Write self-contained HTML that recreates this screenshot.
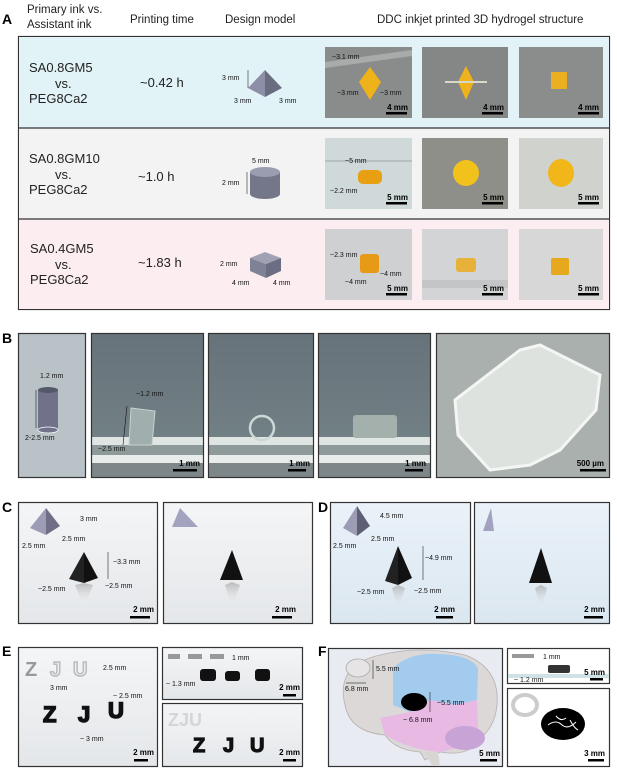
<!DOCTYPE html>
<html><head><meta charset="utf-8"><style>
html,body{margin:0;padding:0;background:#fff;}
svg{display:block;}
text{font-family:"Liberation Sans",Arial,sans-serif;}
.sb{font-size:8px;font-weight:bold;fill:#000;}
.lbl{font-size:7px;fill:#111;}
.big{font-size:14px;font-weight:bold;}
.hd{font-size:11.5px;fill:#222;}
.rt{font-size:13px;fill:#222;}
</style></head><body>
<svg width="617" height="768" viewBox="0 0 617 768" xmlns="http://www.w3.org/2000/svg">
<defs>
<linearGradient id="gW" x1="0" y1="0" x2="0" y2="1"><stop offset="0" stop-color="#f4f5f6"/><stop offset="1" stop-color="#e4e7ea"/></linearGradient>
<linearGradient id="gD" x1="0" y1="0" x2="0" y2="1"><stop offset="0" stop-color="#eaf2f9"/><stop offset="1" stop-color="#dbe7f0"/></linearGradient>
<linearGradient id="gR" x1="0" y1="0" x2="0" y2="1"><stop offset="0" stop-color="#999"/><stop offset="1" stop-color="#fff" stop-opacity="0"/></linearGradient>
<linearGradient id="gP" x1="0" y1="0" x2="0" y2="1"><stop offset="0" stop-color="#66737a"/><stop offset="1" stop-color="#76858a"/></linearGradient>
</defs>

<!-- Panel A header -->
<text x="2" y="24" class="big">A</text>
<text x="27" y="13" class="hd">Primary ink vs.</text>
<text x="27" y="28" class="hd">Assistant ink</text>
<text x="130" y="23" class="hd">Printing time</text>
<text x="225" y="23" class="hd">Design model</text>
<text x="377" y="23" class="hd">DDC inkjet printed 3D hydrogel structure</text>

<rect x="18.5" y="36.5" width="591" height="273" fill="#fff" stroke="#333" stroke-width="1.2"/>
<rect x="19" y="37" width="590" height="91" fill="#e2f3f8"/>
<rect x="19" y="128" width="590" height="91" fill="#f3f3f3"/>
<rect x="19" y="219" width="590" height="90" fill="#fcedf0"/>
<line x1="18.5" y1="128" x2="609.5" y2="128" stroke="#333" stroke-width="1.2"/>
<line x1="18.5" y1="219" x2="609.5" y2="219" stroke="#333" stroke-width="1.2"/>

<g class="rt">
<text x="29" y="72">SA0.8GM5</text><text x="55" y="88">vs.</text><text x="29" y="103">PEG8Ca2</text>
<text x="140" y="87">~0.42 h</text>
<text x="29" y="163">SA0.8GM10</text><text x="55" y="179">vs.</text><text x="29" y="194">PEG8Ca2</text>
<text x="138" y="181">~1.0 h</text>
<text x="30" y="253">SA0.4GM5</text><text x="55" y="269">vs.</text><text x="30" y="284">PEG8Ca2</text>
<text x="138" y="267">~1.83 h</text>
</g>

<!-- design models -->
<g>
<polygon points="265,70 248,88 265,97" fill="#8d8fa6"/><polygon points="265,70 282,88 265,97" fill="#6a6c80"/>
<text x="222" y="80" class="lbl">3 mm</text><text x="234" y="103" class="lbl">3 mm</text><text x="279" y="103" class="lbl">3 mm</text>
<line x1="248" y1="70" x2="248" y2="88" stroke="#000" stroke-width="0.5"/>
<rect x="250" y="172" width="30" height="22" fill="#74778a"/>
<ellipse cx="265" cy="194" rx="15" ry="5" fill="#74778a"/>
<ellipse cx="265" cy="172" rx="15" ry="5" fill="#9a9cb0"/>
<text x="252" y="163" class="lbl">5 mm</text><text x="222" y="185" class="lbl">2 mm</text>
<line x1="247" y1="172" x2="247" y2="194" stroke="#000" stroke-width="0.5"/>
<polygon points="250,258 265,252 281,258 266,264" fill="#a0a2b4"/>
<polygon points="250,258 266,264 266,278 250,271" fill="#7f8296"/>
<polygon points="266,264 281,258 281,271 266,278" fill="#6b6e82"/>
<text x="220" y="266" class="lbl">2 mm</text><text x="232" y="285" class="lbl">4 mm</text><text x="273" y="285" class="lbl">4 mm</text>
</g>

<!-- A photos row1 -->
<rect x="325" y="47" width="87" height="71" fill="#8a8b8b"/>
<polygon points="325,62 412,50 412,56 325,68" fill="#a9aaaa"/>
<polygon points="370,67 359,82 370,100 381,82" fill="#f0b21a"/>
<text x="332" y="59" class="lbl">~3.1 mm</text><text x="337" y="95" class="lbl">~3 mm</text><text x="380" y="95" class="lbl">~3 mm</text>
<rect x="422" y="47" width="86" height="71" fill="#858686"/>
<polygon points="466,66 458,82 466,100 474,82" fill="#eeb21c"/><rect x="445" y="81" width="42" height="2" fill="#d8d8c8"/>
<rect x="519" y="47" width="84" height="71" fill="#8b8c8c"/>
<rect x="551" y="72" width="16" height="17" fill="#eab020"/>
<!-- row2 -->
<rect x="325" y="138" width="87" height="71" fill="#d0d9d9"/><rect x="325" y="160" width="87" height="2" fill="#b6c0c0"/>
<rect x="358" y="170" width="24" height="14" rx="5" fill="#e8a012"/>
<text x="345" y="163" class="lbl">~5 mm</text><text x="330" y="193" class="lbl">~2.2 mm</text>
<rect x="422" y="138" width="86" height="71" fill="#8e8f88"/>
<circle cx="466" cy="173" r="13" fill="#f2c21c"/>
<rect x="519" y="138" width="84" height="71" fill="#cfd2cd"/>
<ellipse cx="561" cy="173" rx="13" ry="14" fill="#f1b618"/>
<!-- row3 -->
<rect x="325" y="229" width="87" height="71" fill="#cfd0d2"/>
<rect x="360" y="254" width="19" height="19" rx="3" fill="#e79a16"/>
<text x="330" y="257" class="lbl">~2.3 mm</text><text x="380" y="276" class="lbl">~4 mm</text><text x="345" y="284" class="lbl">~4 mm</text>
<rect x="422" y="229" width="86" height="71" fill="#d3d4d5"/><rect x="422" y="280" width="86" height="8" fill="#c4c5c6"/>
<rect x="456" y="258" width="20" height="14" rx="3" fill="#e8b23a"/>
<rect x="519" y="229" width="84" height="71" fill="#d7d7d7"/>
<rect x="551" y="258" width="18" height="17" rx="2" fill="#e6a81c"/>

<!-- scale bars A -->
<g>
<text x="408" y="110" class="sb" text-anchor="end">4 mm</text><rect x="386" y="112" width="21" height="2.5"/>
<text x="504" y="110" class="sb" text-anchor="end">4 mm</text><rect x="482" y="112" width="21" height="2.5"/>
<text x="599" y="110" class="sb" text-anchor="end">4 mm</text><rect x="578" y="112" width="21" height="2.5"/>
<text x="408" y="200" class="sb" text-anchor="end">5 mm</text><rect x="386" y="202" width="21" height="2.5"/>
<text x="504" y="200" class="sb" text-anchor="end">5 mm</text><rect x="482" y="202" width="21" height="2.5"/>
<text x="599" y="200" class="sb" text-anchor="end">5 mm</text><rect x="578" y="202" width="21" height="2.5"/>
<text x="408" y="291" class="sb" text-anchor="end">5 mm</text><rect x="386" y="293" width="21" height="2.5"/>
<text x="504" y="291" class="sb" text-anchor="end">5 mm</text><rect x="482" y="293" width="21" height="2.5"/>
<text x="599" y="291" class="sb" text-anchor="end">5 mm</text><rect x="578" y="293" width="21" height="2.5"/>
</g>

<!-- Panel B -->
<text x="2" y="343" class="big">B</text>
<rect x="18.5" y="333.5" width="67" height="144" fill="#b8c2c7" stroke="#333" stroke-width="1.2"/>
<rect x="38" y="390" width="20" height="40" fill="#6f7288"/>
<ellipse cx="48" cy="430" rx="10" ry="3" fill="#6f7288" stroke="#fff" stroke-width="0.8"/>
<ellipse cx="48" cy="390" rx="10" ry="3" fill="#555868"/>
<text x="40" y="378" class="lbl">1.2 mm</text><text x="25" y="440" class="lbl">2-2.5 mm</text>
<line x1="36" y1="390" x2="36" y2="428" stroke="#000" stroke-width="0.5"/>

<g>
<rect x="91.5" y="333.5" width="112" height="144" fill="url(#gP)"/>
<rect x="92" y="437" width="111" height="8" fill="#dfe5e3"/>
<rect x="92" y="445" width="111" height="10" fill="#8e9a9a"/>
<rect x="92" y="455" width="111" height="8" fill="#e8ecea"/>
<rect x="92" y="463" width="111" height="14" fill="#7d8688"/>
<rect x="91.5" y="333.5" width="112" height="144" fill="none" stroke="#333" stroke-width="1.2"/>
<polygon points="131,408 155,411 152,445 129,445" fill="#a0aeae" stroke="#c8d2d0" stroke-width="1"/>
<line x1="127" y1="406" x2="123" y2="445" stroke="#111" stroke-width="0.6"/>
<text x="136" y="396" class="lbl">~1.2 mm</text><text x="98" y="451" class="lbl">~2.5 mm</text>
</g>
<g>
<rect x="208.5" y="333.5" width="105" height="144" fill="url(#gP)"/>
<rect x="209" y="437" width="104" height="8" fill="#dfe5e3"/>
<rect x="209" y="445" width="104" height="10" fill="#8e9a9a"/>
<rect x="209" y="455" width="104" height="8" fill="#e8ecea"/>
<rect x="209" y="463" width="104" height="14" fill="#7d8688"/>
<rect x="208.5" y="333.5" width="105" height="144" fill="none" stroke="#333" stroke-width="1.2"/>
<circle cx="262" cy="428" r="12" fill="none" stroke="#cdd8d4" stroke-width="2.5"/>
</g>
<g>
<rect x="318.5" y="333.5" width="112" height="144" fill="url(#gP)"/>
<rect x="319" y="437" width="111" height="8" fill="#dfe5e3"/>
<rect x="319" y="445" width="111" height="10" fill="#8e9a9a"/>
<rect x="319" y="455" width="111" height="8" fill="#e8ecea"/>
<rect x="319" y="463" width="111" height="14" fill="#7d8688"/>
<rect x="318.5" y="333.5" width="112" height="144" fill="none" stroke="#333" stroke-width="1.2"/>
<rect x="353" y="415" width="44" height="23" rx="3" fill="#a4b0ac"/>
</g>
<rect x="436.5" y="333.5" width="173" height="144" fill="#aab0ad" stroke="#333" stroke-width="1.2"/>
<polygon points="455,400 520,350 540,345 600,375 596,410 560,450 530,465 490,470 458,435" fill="#dde2de" stroke="#f4f6f4" stroke-width="3"/>
<text x="200" y="466" class="sb" text-anchor="end">1 mm</text><rect x="173" y="469" width="24" height="2.5"/>
<text x="310" y="466" class="sb" text-anchor="end">1 mm</text><rect x="288" y="469" width="18" height="2.5"/>
<text x="426" y="466" class="sb" text-anchor="end">1 mm</text><rect x="405" y="469" width="18" height="2.5"/>
<text x="604" y="466" class="sb" text-anchor="end">500 µm</text><rect x="580" y="469" width="26" height="2.5"/>

<!-- Panel C -->
<text x="2" y="512" class="big">C</text>
<rect x="18.5" y="502.5" width="139" height="121" fill="url(#gW)" stroke="#333" stroke-width="1.2"/>
<polygon points="46,508 30,528 46,535" fill="#9c9cb4"/><polygon points="46,508 60,526 46,535" fill="#6e6e86"/>
<text x="80" y="521" class="lbl">3 mm</text><text x="62" y="541" class="lbl">2.5 mm</text><text x="22" y="548" class="lbl">2.5 mm</text>
<polygon points="84,552 69,579 84,583" fill="#222"/><polygon points="84,552 98,578 84,583" fill="#111"/>
<polygon points="84,583 75,585 84,607 93,585" fill="url(#gR)" opacity="0.6"/>
<text x="113" y="564" class="lbl">~3.3 mm</text><text x="38" y="591" class="lbl">~2.5 mm</text><text x="105" y="588" class="lbl">~2.5 mm</text>
<line x1="108" y1="552" x2="108" y2="579" stroke="#000" stroke-width="0.5"/>
<rect x="163.5" y="502.5" width="149" height="121" fill="url(#gW)" stroke="#333" stroke-width="1.2"/>
<polygon points="180,508 172,527 198,527" fill="#a3a3bf"/>
<polygon points="232,550 220,580 243,580" fill="#111"/>
<polygon points="232,582 225,585 232,608 240,585" fill="url(#gR)" opacity="0.6"/>
<text x="154" y="612" class="sb" text-anchor="end">2 mm</text><rect x="130" y="616" width="20" height="2.5"/>
<text x="296" y="612" class="sb" text-anchor="end">2 mm</text><rect x="272" y="616" width="20" height="2.5"/>

<!-- Panel D -->
<text x="318" y="512" class="big">D</text>
<rect x="330.5" y="502.5" width="140" height="121" fill="url(#gD)" stroke="#333" stroke-width="1.2"/>
<polygon points="357,506 343,528 357,536" fill="#9c9cb4"/><polygon points="357,506 370,526 357,536" fill="#5e5e74"/>
<text x="380" y="518" class="lbl">4.5 mm</text><text x="371" y="541" class="lbl">2.5 mm</text><text x="333" y="548" class="lbl">2.5 mm</text>
<polygon points="398,546 385,581 398,585" fill="#222"/><polygon points="398,546 412,578 398,585" fill="#111"/>
<polygon points="398,585 392,588 398,610 405,588" fill="url(#gR)" opacity="0.6"/>
<text x="425" y="560" class="lbl">~4.9 mm</text><text x="357" y="594" class="lbl">~2.5 mm</text><text x="414" y="593" class="lbl">~2.5 mm</text>
<line x1="423" y1="546" x2="423" y2="580" stroke="#000" stroke-width="0.5"/>
<rect x="474.5" y="502.5" width="135" height="121" fill="url(#gD)" stroke="#333" stroke-width="1.2"/>
<polygon points="491,508 483,531 494,531" fill="#a3a3bf"/>
<polygon points="541,548 529,583 552,583" fill="#111"/>
<polygon points="541,585 535,588 541,610 547,588" fill="url(#gR)" opacity="0.6"/>
<text x="455" y="612" class="sb" text-anchor="end">2 mm</text><rect x="436" y="616" width="17" height="2.5"/>
<text x="605" y="612" class="sb" text-anchor="end">2 mm</text><rect x="584" y="616" width="19" height="2.5"/>

<!-- Panel E -->
<text x="2" y="656" class="big">E</text>
<rect x="18.5" y="647.5" width="139" height="119" fill="url(#gW)" stroke="#333" stroke-width="1.2"/>
<text x="25" y="676" font-size="20" font-weight="bold" fill="#999">Z</text>
<text x="50" y="676" font-size="20" font-weight="bold" fill="none" stroke="#bbb" stroke-width="1.5">J</text>
<text x="73" y="676" font-size="20" font-weight="bold" fill="none" stroke="#bbb" stroke-width="1.5">U</text>
<text x="103" y="670" class="lbl">2.5 mm</text><text x="50" y="690" class="lbl">3 mm</text>
<text x="113" y="698" class="lbl">~ 2.5 mm</text><text x="80" y="741" class="lbl">~ 3 mm</text>
<text x="43" y="722" font-size="22" font-weight="900" fill="#111" stroke="#111" stroke-width="1.5">Z</text>
<text x="78" y="722" font-size="22" font-weight="900" fill="#111" stroke="#111" stroke-width="1.5">J</text>
<text x="108" y="718" font-size="22" font-weight="900" fill="#111" stroke="#111" stroke-width="1.5">U</text>
<text x="154" y="755" class="sb" text-anchor="end">2 mm</text><rect x="134" y="759" width="14" height="2.5"/>

<rect x="162.5" y="647.5" width="140" height="52" fill="url(#gW)" stroke="#333" stroke-width="1.2"/>
<rect x="168" y="654" width="12" height="5" fill="#999"/><rect x="188" y="654" width="14" height="5" fill="#999"/><rect x="210" y="654" width="14" height="5" fill="#999"/>
<text x="232" y="660" class="lbl">1 mm</text><text x="166" y="686" class="lbl">~ 1.3 mm</text>
<rect x="200" y="669" width="16" height="12" rx="3" fill="#111"/><rect x="225" y="671" width="15" height="10" rx="3" fill="#111"/><rect x="255" y="669" width="15" height="12" rx="3" fill="#111"/>
<text x="300" y="690" class="sb" text-anchor="end">2 mm</text><rect x="283" y="694" width="13" height="2.5"/>
<rect x="162.5" y="703.5" width="140" height="63" fill="url(#gW)" stroke="#333" stroke-width="1.2"/>
<text x="168" y="726" font-size="18" font-weight="bold" fill="#d5d5d5">ZJU</text>
<text x="193" y="752" font-size="20" font-weight="900" fill="#111" stroke="#111" stroke-width="1.2">Z</text>
<text x="223" y="752" font-size="20" font-weight="900" fill="#111" stroke="#111" stroke-width="1.2">J</text>
<text x="250" y="752" font-size="20" font-weight="900" fill="#111" stroke="#111" stroke-width="1.2">U</text>
<text x="300" y="755" class="sb" text-anchor="end">2 mm</text><rect x="283" y="759" width="13" height="2.5"/>

<!-- Panel F -->
<text x="318" y="656" class="big">F</text>
<rect x="328.5" y="648.5" width="174" height="118" fill="#e9ebf3" stroke="#333" stroke-width="1.2"/>
<path d="M345,705 Q335,665 380,655 Q420,645 465,655 Q500,668 497,705 Q495,728 478,740 Q470,757 440,752 L425,760 L420,752 Q395,750 385,735 Q350,732 345,705 Z" fill="#dcd8d8" stroke="#b7b0b0" stroke-width="0.8"/>
<path d="M393,705 L393,668 Q410,652 440,654 Q470,655 478,668 L477,700 L455,705 L430,700 L410,712 Z" fill="#a2cbee"/>
<path d="M410,712 L430,700 L455,705 L477,700 L478,730 L470,745 L440,752 Q410,750 385,735 L380,718 Z" fill="#e7b9e3"/>
<ellipse cx="465" cy="738" rx="20" ry="12" fill="#c7a3d6"/>
<path d="M425,752 L432,766 L440,766 L438,752 Z" fill="#d8d6d2"/>
<ellipse cx="358" cy="668" rx="12" ry="9" fill="#e6e4e4" stroke="#aaa" stroke-width="0.8"/>
<text x="376" y="671" class="lbl">5.5 mm</text><text x="345" y="691" class="lbl">6.8 mm</text>
<line x1="373" y1="660" x2="373" y2="679" stroke="#000" stroke-width="0.5"/>
<line x1="346" y1="683" x2="366" y2="683" stroke="#000" stroke-width="0.5"/>
<ellipse cx="414" cy="702" rx="13" ry="9" fill="#000"/>
<text x="437" y="705" class="lbl">~5.5 mm</text><text x="403" y="722" class="lbl">~ 6.8 mm</text>
<line x1="430" y1="692" x2="430" y2="712" stroke="#000" stroke-width="0.5"/>
<text x="500" y="756" class="sb" text-anchor="end">5 mm</text><rect x="480" y="759" width="17" height="2.5"/>
<rect x="507.5" y="648.5" width="102" height="35" fill="#fff" stroke="#333" stroke-width="1.2"/>
<rect x="512" y="654" width="22" height="4" fill="#999"/>
<text x="543" y="659" class="lbl">1 mm</text>
<rect x="548" y="665" width="22" height="8" rx="2" fill="#333"/>
<rect x="508" y="674" width="101" height="4" fill="#cfe3e6"/>
<text x="514" y="682" class="lbl">~ 1.2 mm</text>
<text x="605" y="675" class="sb" text-anchor="end">5 mm</text><rect x="590" y="678" width="13" height="2.5"/>
<rect x="507.5" y="688.5" width="102" height="78" fill="#fff" stroke="#333" stroke-width="1.2"/>
<ellipse cx="525" cy="705" rx="12" ry="10" fill="none" stroke="#ccc" stroke-width="4"/>
<ellipse cx="563" cy="724" rx="22" ry="16" fill="#000"/>
<path d="M548,725 q8,-6 14,0 q6,5 14,-3 M556,716 q5,6 10,2 M570,720 q4,8 8,10" stroke="#fff" stroke-width="1" fill="none"/>
<text x="605" y="756" class="sb" text-anchor="end">3 mm</text><rect x="588" y="759" width="16" height="2.5"/>
</svg>
</body></html>
